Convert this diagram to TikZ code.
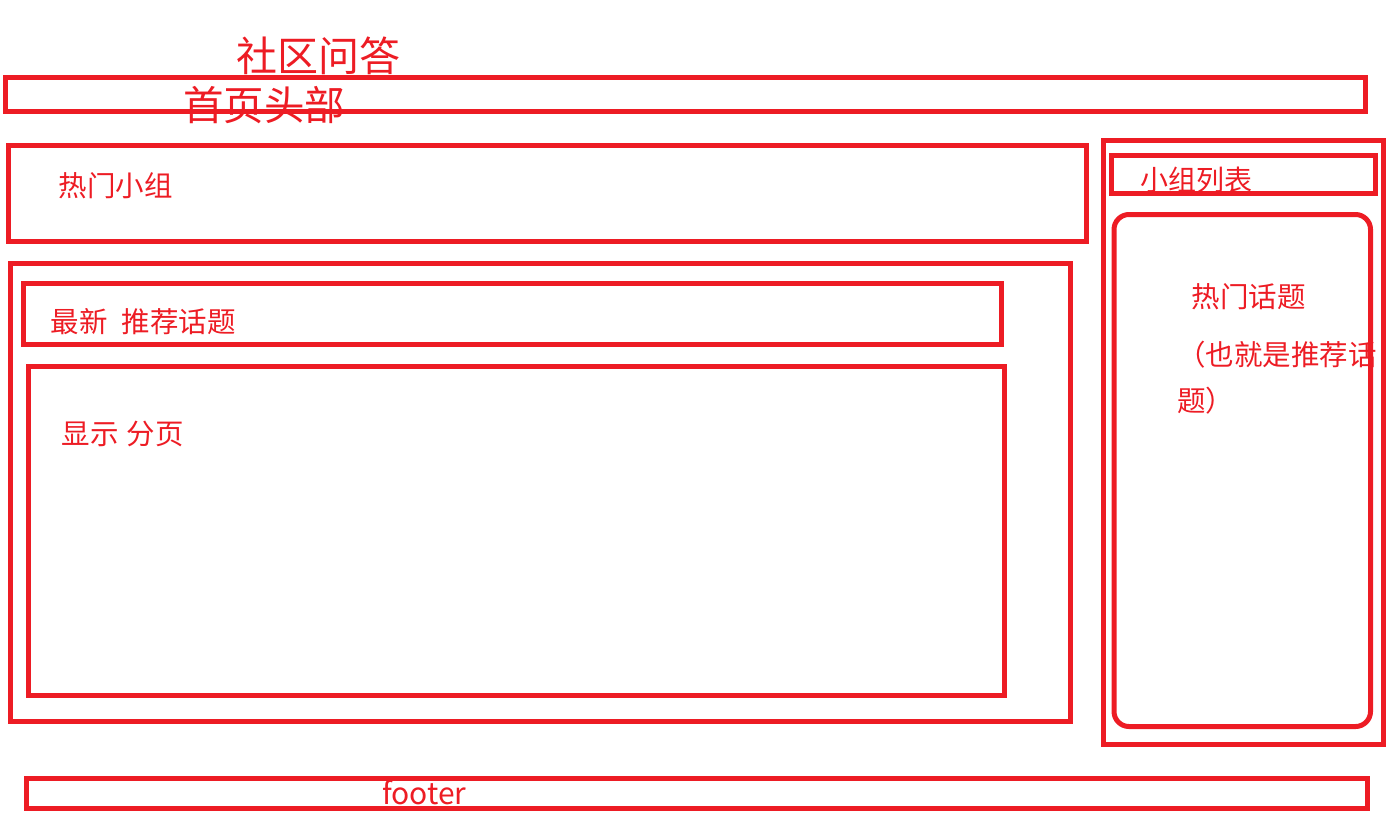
\documentclass[tikz,border=0pt]{standalone}
\usepackage{fontspec}
\setmainfont{Noto Sans CJK SC}
\definecolor{paintred}{RGB}{237,28,36}
\tikzset{
  box/.style={draw=paintred,line width=5pt},
  lbl/.style={anchor=base west,inner sep=0pt,outer sep=0pt,text=paintred}
}
\begin{document}
\begin{tikzpicture}[x=1pt,y=-1pt]
\useasboundingbox (0,0) rectangle (1391,823);
% boxes
\draw[box] (5.5,77) rectangle (1365,111.5);
\draw[box] (8,145) rectangle (1086,241);
\draw[box] (10.5,263) rectangle (1070,721);
\draw[box] (23,283) rectangle (1001,344);
\draw[box] (28,366) rectangle (1004,695);
\draw[box] (1103,140.5) rectangle (1383.5,744.5);
\draw[box] (1111.5,155) rectangle (1375.5,193.5);
\draw[box,rounded corners=15pt] (1114,214.5) rectangle (1370.5,726.5);
\draw[box] (26.5,778.5) rectangle (1367,808.5);
% texts
\node[lbl,font=\fontsize{41}{48}\selectfont] (title) at (236,71) {社区问答};
\node[lbl,font=\fontsize{40.5}{48}\selectfont] (header) at (183,120) {首页头部};
\node[lbl,font=\fontsize{28.5}{34}\selectfont] (hotgroup) at (58.6,196.8) {热门小组};
\node[lbl,font=\fontsize{28}{34}\selectfont] (grouplist) at (1140.6,190.5) {小组列表};
\node[lbl,font=\fontsize{28.5}{34}\selectfont] (hottopic) at (1191.6,307.8) {热门话题};
\node[lbl,font=\fontsize{28.5}{34}\selectfont] (note1) at (1177,365.3) {（也就是推荐话};
\node[lbl,font=\fontsize{28.5}{34}\selectfont] (note2) at (1177,411.3) {题）};
\node[lbl,font=\fontsize{28.5}{34}\selectfont] (newest) at (50.6,332.3) {最新};
\node[lbl,font=\fontsize{28.5}{34}\selectfont] (recommend) at (121.6,332.3) {推荐话题};
\node[lbl,font=\fontsize{28.5}{34}\selectfont] (show) at (61.6,444.8) {显示};
\node[lbl,font=\fontsize{28.5}{34}\selectfont] (paging) at (126.6,444.8) {分页};
\node[lbl,font=\fontsize{30}{36}\selectfont] (footer) at (382,804) {footer};
\end{tikzpicture}
\end{document}
